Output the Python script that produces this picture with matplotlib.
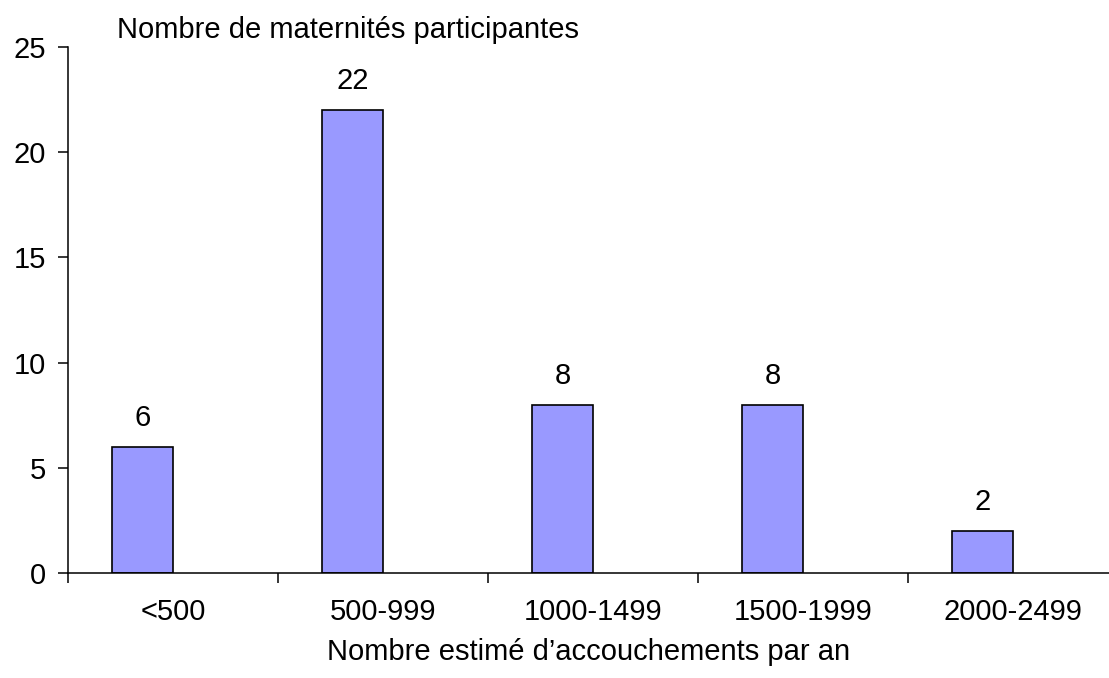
import matplotlib.pyplot as plt
import numpy as np

plt.rcParams['font.family'] = ['Liberation Sans', 'DejaVu Sans']
plt.rcParams['font.size'] = 21

categories = ['<500', '500-999', '1000-1499', '1500-1999', '2000-2499']
values = [6, 22, 8, 8, 2]

fig = plt.figure(figsize=(11.09, 6.78), dpi=100)
ax = fig.add_axes([68 / 1109, 105 / 678, 1050 / 1109, 526 / 678])

x = np.arange(len(categories))
bars = ax.bar(x - 0.145, values, width=0.29, color='#9999FF',
              edgecolor='black', linewidth=1.2, zorder=3)

for xi, v in zip(x, values):
    ax.annotate(str(v), (xi - 0.145, v), xytext=(0, 15), textcoords='offset points',
                ha='center', va='baseline', fontsize=21)

ax.set_xlim(-0.5, len(categories) - 0.5)
ax.set_ylim(0, 25)
ax.set_yticks([0, 5, 10, 15, 20, 25])

# labels at category centres, tick marks at category boundaries
ax.set_xticks(x)
ax.set_xticklabels(categories)
ax.set_xticks(np.arange(-0.5, len(categories)), minor=True)
ax.tick_params(axis='x', which='major', length=0, pad=18)
ax.tick_params(axis='x', which='minor', length=7, width=1.1, direction='out')
ax.tick_params(axis='y', length=7, width=1.1, direction='out', pad=9)

for s in ['top', 'right']:
    ax.spines[s].set_visible(False)
for s in ['left', 'bottom']:
    ax.spines[s].set_linewidth(1.1)
ax.spines['bottom'].set_zorder(4)

fig.text(117 / 1109, 1 - 30 / 678, 'Nombre de maternités participantes',
         ha='left', va='center', fontsize=21)
fig.text(589 / 1109, 1 - 652 / 678, 'Nombre estimé d\u2019accouchements par an',
         ha='center', va='center', fontsize=21)

fig.savefig('out.png', dpi=100)
